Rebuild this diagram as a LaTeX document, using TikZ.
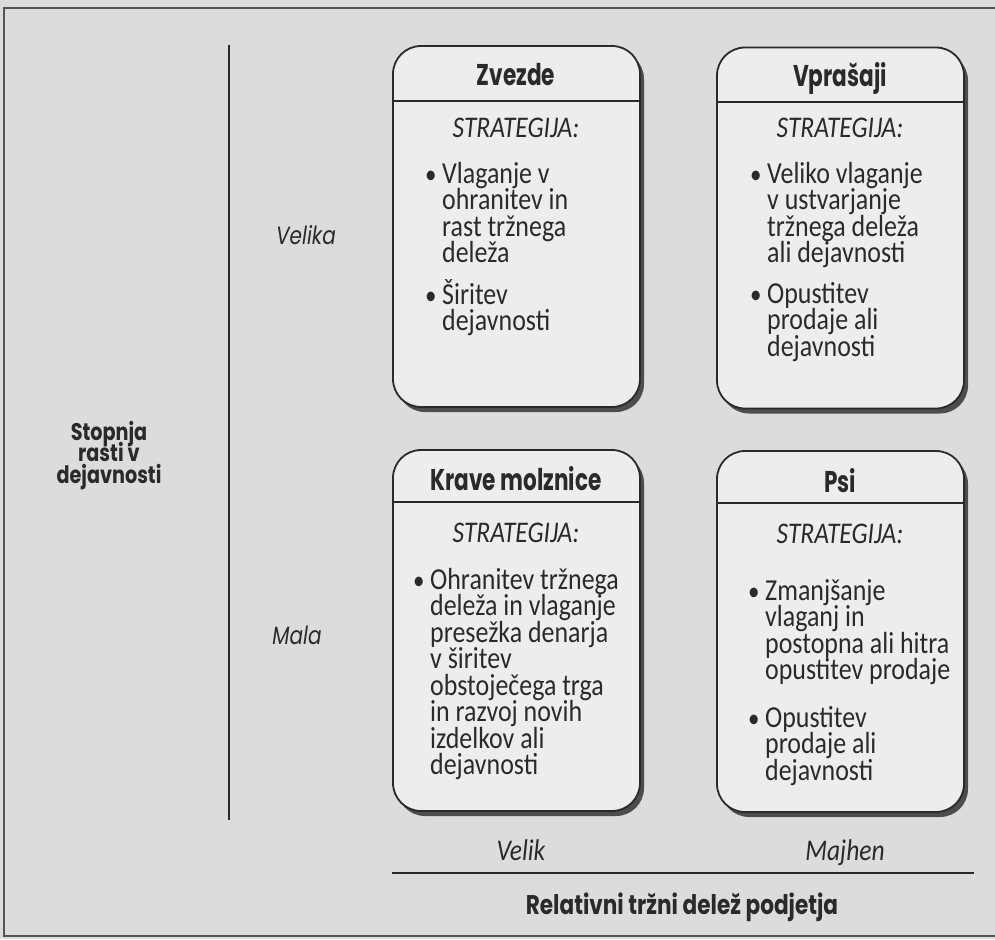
\documentclass[tikz,border=0pt]{standalone}
\usepackage{fontspec}
\setmainfont{Carlito}[FakeStretch=0.85]
\newfontfamily\fut{Poppins}[FakeStretch=0.8]
\newfontfamily\futc{Poppins}[FakeStretch=0.72]
\usetikzlibrary{shadows}
\definecolor{bgc}{HTML}{DCDCDC}
\definecolor{boxc}{HTML}{EDEDED}
\definecolor{ink}{HTML}{2A2A2A}
\definecolor{shc}{HTML}{4D4D4D}
\newcommand{\mypara}[2][200pt]{\parbox[t]{#1}{\raggedright\lineskiplimit=-100pt\lineskip=0pt #2}}
\newcommand{\mycpara}[2][160pt]{\parbox[t]{#1}{\centering\lineskiplimit=-100pt\lineskip=0pt #2}}
\begin{document}
\begin{tikzpicture}[x=1pt,y=-1pt,
  quad/.style={draw=ink, line width=1.8pt, fill=boxc, rounded corners=28pt,
    minimum width=247pt, minimum height=361pt, inner sep=0pt,
    drop shadow={shadow xshift=4pt, shadow yshift=-5pt, fill=shc, opacity=1}},
  body/.style={font=\fontsize{30.5}{26.5}\selectfont, text=ink, inner sep=0pt, anchor=base west},
  bul/.style={font=\fontsize{27}{30}\selectfont, text=ink, inner sep=0pt, anchor=base west},
  head/.style={font=\futc\bfseries\fontsize{30}{30}\selectfont, text=ink, inner sep=0pt, anchor=base},
  strat/.style={font=\itshape\fontsize{30}{32}\selectfont, text=ink, inner sep=0pt, anchor=base},
  axlab/.style={text=ink, inner sep=0pt, anchor=base},
  level/.style={font=\fut\itshape\fontsize{25}{28}\selectfont, text=ink, inner sep=0pt, anchor=base},
  share/.style={font=\itshape\fontsize{30}{32}\selectfont, text=ink, inner sep=0pt, anchor=base},
  hline/.style={draw=ink, line width=1.5pt},
  axis/.style={draw=ink, line width=1.8pt},
  frame/.style={draw=ink!80, line width=1.2pt}]
\useasboundingbox (0,0) rectangle (995,939);
\fill[bgc] (0,0) rectangle (995,939);
\draw[frame] (996,8) -- (4,8) -- (4,936) -- (996,936);

% axes
\coordinate (vtop) at (229,45);
\coordinate (vbot) at (229,820);
\draw[axis] (vtop) -- (vbot);
\coordinate (hl) at (392,873);
\coordinate (hr) at (974,873);
\draw[axis] (hl) -- (hr);

% axis labels
\node[axlab, font=\fut\bfseries\fontsize{24}{21.5}\selectfont] (st) at (109,440)
  {\mycpara{Stopnja\\rasti v\\dejavnosti}};
\node[level] (velika) at (306,244) {Velika};
\node[level] (mala) at (297,644) {Mala};
\node[share] (velik) at (521,860) {Velik};
\node[share] (majhen) at (845,860) {Majhen};
\node[axlab, font=\fut\bfseries\fontsize{27}{27}\selectfont] (rel) at (682,914) {Relativni tržni delež podjetja};

% boxes
\node[quad] (zv) at (516.5,226.5) {};
\node[quad] (vp) at (840.5,228) {};
\node[quad] (kr) at (516.5,630.5) {};
\node[quad] (ps) at (840.5,631.5) {};

\draw[hline] (393,101) -- (640,101);
\draw[hline] (717,102) -- (964,102);
\draw[hline] (393,502) -- (640,502);
\draw[hline] (717,503) -- (964,503);

\node[head] (zvt) at (516,86) {Zvezde};
\node[head] (vpt) at (840,87) {Vprašaji};
\node[head] (krt) at (516,490) {Krave molznice};
\node[head] (pst) at (840,492) {Psi};

\node[strat] (zvs) at (516,137) {STRATEGIJA:};
\node[strat] (vps) at (840,137) {STRATEGIJA:};
\node[strat] (krs) at (516,542) {STRATEGIJA:};
\node[strat] (pss) at (840,543) {STRATEGIJA:};

% Zvezde
\node[bul] (zvb1) at (425,183) {\textbullet};
\node[body] (zva) at (442,183) {\mypara{Vlaganje v\\ohranitev in\\rast tržnega\\deleža}};
\node[bul] (zvb2) at (425,304) {\textbullet};
\node[body] (zvc) at (442,304) {\mypara{Širitev\\dejavnosti}};

% Vprasaji
\node[bul] (vpb1) at (750,183) {\textbullet};
\node[body] (vpa) at (767,183) {\mypara[190pt]{Veliko vlaganje\\v ustvarjanje\\tržnega deleža\\ali dejavnosti}};
\node[bul] (vpb2) at (750,303) {\textbullet};
\node[body] (vpc) at (767,303) {\mypara[190pt]{Opustitev\\prodaje ali\\dejavnosti}};

% Krave molznice
\node[bul] (krb1) at (413,589) {\textbullet};
\node[body] (kra) at (430,589) {\mypara{Ohranitev tržnega\\deleža in vlaganje\\presežka denarja\\v širitev\\obstoječega trga\\in razvoj novih\\izdelkov ali\\dejavnosti}};

% Psi
\node[bul] (psb1) at (748,600) {\textbullet};
\node[body] (psa) at (765,600) {\mypara[192pt]{Zmanjšanje\\vlaganj in\\postopna ali hitra\\opustitev prodaje}};
\node[bul] (psb2) at (748,727) {\textbullet};
\node[body] (psc) at (765,727) {\mypara[192pt]{Opustitev\\prodaje ali\\dejavnosti}};
\end{tikzpicture}
\end{document}
